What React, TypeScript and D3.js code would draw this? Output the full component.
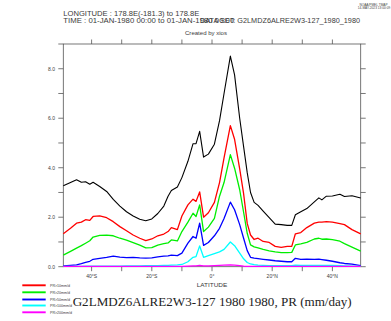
import React from "react";
import * as d3 from "d3";

const LATS = [-49.4, -47, -45, -43.4, -42, -40.6, -39.5, -37.3, -35, -32.8, -30.6, -28.4, -26.2, -24, -22, -20, -18, -16, -14.6, -13.5, -11.5, -10, -8, -6.3, -5.3, -4.1, -2.8, -1.2, 0.8, 2.5, 4, 6.1, 7.5, 9.2, 10.5, 11.7, 12.8, 14, 15.3, 17, 19, 21, 23, 25, 26.5, 27.7, 29.5, 31.5, 34, 35.5, 36.5, 38, 40, 42.5, 44, 46.5, 49.4];

const PR_TOTAL = [3.27, 3.40, 3.51, 3.41, 3.43, 3.33, 3.41, 3.24, 3.04, 2.72, 2.45, 2.22, 2.05, 1.92, 1.86, 1.93, 2.15, 2.45, 2.85, 3.08, 3.22, 3.6, 4.26, 4.97, 4.97, 5.47, 4.43, 4.55, 4.95, 5.9, 7.0, 8.51, 7.75, 6.0, 4.85, 3.8, 3.0, 2.6, 2.48, 2.25, 1.98, 1.72, 1.70, 1.67, 1.67, 2.10, 2.22, 2.35, 2.62, 2.78, 2.70, 2.85, 2.86, 2.93, 2.84, 2.87, 2.78];
const PR_10 = [1.33, 1.55, 1.76, 1.80, 1.90, 1.87, 2.03, 2.05, 1.98, 1.82, 1.62, 1.45, 1.28, 1.15, 1.05, 1.12, 1.25, 1.32, 1.42, 1.58, 1.50, 2.05, 2.5, 2.73, 2.64, 3.02, 2.0, 2.18, 2.6, 3.4, 4.4, 5.7, 5.15, 3.95, 2.95, 1.75, 1.28, 1.1, 1.15, 1.02, 0.98, 0.82, 0.78, 0.82, 0.82, 1.33, 1.38, 1.58, 1.76, 1.80, 1.80, 1.82, 1.80, 1.74, 1.70, 1.50, 1.33];
const PR_20 = [0.47, 0.62, 0.75, 0.85, 0.95, 1.05, 1.20, 1.27, 1.28, 1.25, 1.15, 1.07, 0.97, 0.87, 0.76, 0.77, 0.87, 0.93, 0.96, 1.08, 1.04, 1.42, 1.80, 2.16, 2.03, 2.5, 1.42, 1.60, 1.95, 2.85, 3.4, 4.53, 3.98, 3.11, 2.2, 1.35, 0.88, 0.80, 0.76, 0.70, 0.64, 0.60, 0.57, 0.57, 0.58, 0.88, 0.92, 0.98, 1.12, 1.15, 1.11, 1.12, 1.09, 1.03, 0.93, 0.79, 0.63];
const PR_50 = [0.03, 0.05, 0.07, 0.12, 0.17, 0.22, 0.30, 0.34, 0.38, 0.43, 0.39, 0.37, 0.38, 0.36, 0.35, 0.36, 0.40, 0.43, 0.44, 0.47, 0.45, 0.55, 0.95, 1.22, 1.15, 1.76, 0.86, 0.98, 1.25, 1.55, 1.95, 2.61, 2.3, 1.7, 1.15, 0.65, 0.38, 0.35, 0.33, 0.30, 0.27, 0.24, 0.22, 0.20, 0.20, 0.34, 0.30, 0.31, 0.30, 0.31, 0.29, 0.26, 0.22, 0.16, 0.13, 0.10, 0.04];
const PR_100 = [0.01, 0.01, 0.01, 0.01, 0.02, 0.02, 0.02, 0.02, 0.02, 0.02, 0.02, 0.03, 0.03, 0.03, 0.04, 0.04, 0.04, 0.05, 0.05, 0.06, 0.07, 0.09, 0.2, 0.38, 0.41, 0.84, 0.38, 0.45, 0.53, 0.6, 0.7, 1.0, 0.85, 0.55, 0.32, 0.17, 0.11, 0.08, 0.06, 0.05, 0.04, 0.04, 0.04, 0.04, 0.04, 0.06, 0.05, 0.05, 0.05, 0.05, 0.05, 0.05, 0.05, 0.04, 0.03, 0.02, 0.01];
const PR_200 = [0.01, 0.01, 0.01, 0.01, 0.01, 0.01, 0.01, 0.01, 0.01, 0.01, 0.01, 0.01, 0.01, 0.01, 0.01, 0.01, 0.01, 0.01, 0.01, 0.01, 0.01, 0.01, 0.02, 0.03, 0.03, 0.05, 0.03, 0.03, 0.04, 0.05, 0.06, 0.07, 0.06, 0.04, 0.02, 0.01, 0.01, 0.01, 0.01, 0.01, 0.01, 0.01, 0.01, 0.01, 0.01, 0.01, 0.01, 0.01, 0.01, 0.01, 0.01, 0.01, 0.01, 0.01, 0.01, 0.01, 0.01];

const SERIES_NAMES = ["PR", "PR>10mm/d", "PR>20mm/d", "PR>50mm/d", "PR>100mm/d", "PR>200mm/d"];
const SERIES_VALUES = [PR_TOTAL, PR_10, PR_20, PR_50, PR_100, PR_200];
const SERIES_COLORS = ["#000000", "#ff0000", "#00ee00", "#0000ff", "#00ffff", "#ff00ff"];

const X_TICKS = [-40, -30, -20, -10, 0, 10, 20, 30, 40];
const X_LABELS: [number, string][] = [[-40, "40°S"], [-20, "20°S"], [0, "0°"], [20, "20°N"], [40, "40°N"]];
const Y_TICKS = [0, 1, 2, 3, 4, 5, 6, 7, 8, 9];
const Y_LABELS = [0, 2, 4, 6, 8];

const HEADER_LON = "LONGITUDE : 178.8E(-181.3) to 178.8E";
const HEADER_TIME = "TIME : 01-JAN-1980 00:00 to 01-JAN-1980 00:00";
const HEADER_DSET = "DATA SET: G2LMDZ6ALRE2W3-127_1980_1980";
const HEADER_CREATED = "Created by xios";
const TITLE = "G2LMDZ6ALRE2W3-127 1980 1980, PR (mm/day)";

export default function App() {
  const W = 391, H = 321;
  const L = 63.3, R = 360.7, T = 44, B = 266.7;
  const x = d3.scaleLinear().domain([-49.4, 49.4]).range([L, R]);
  const y = d3.scaleLinear().domain([0, 9]).range([B, T]);
  const line = d3.line<number>().x((_, i) => x(LATS[i])).y((v) => y(v));
  const axisColor = "#555555";
  const textColor = "#3a3a3a";
  const sans = "'Liberation Sans', Arial, sans-serif";

  return (
    <svg width={W} height={H} style={{ position: "fixed", left: 0, top: 0, background: "#fff" }} fontFamily={sans}>
      <rect x={0} y={0} width={W} height={H} fill="#fff" />
      {/* header */}
      <text x={373.5} y={5.5} fontSize={3.2} textAnchor="middle" fill="#444">NOAA/PMEL TMAP</text>
      <text x={374} y={8.8} fontSize={3.2} textAnchor="middle" fill="#444">14-MAY-2023 13:00:09</text>
      <text x={63.3} y={16} fontSize={6.4} textLength={136} lengthAdjust="spacingAndGlyphs" fill={textColor}>{HEADER_LON}</text>
      <text x={63.3} y={22.6} fontSize={6.4} textLength={171} lengthAdjust="spacingAndGlyphs" fill={textColor}>{HEADER_TIME}</text>
      <text x={200} y={22.6} fontSize={6.4} textLength={160} lengthAdjust="spacingAndGlyphs" fill={textColor}>{HEADER_DSET}</text>
      <text x={206} y={34.5} fontSize={6.2} textLength={42} lengthAdjust="spacingAndGlyphs" textAnchor="middle" fill={textColor}>{HEADER_CREATED}</text>

      {/* frame */}
      <rect x={L} y={T} width={R - L} height={B - T} fill="none" stroke={axisColor} strokeWidth={0.8} />
      {X_TICKS.map((t) => (
        <g key={"xt" + t}>
          <line x1={x(t)} x2={x(t)} y1={T} y2={T - 4.5} stroke={axisColor} strokeWidth={0.8} />
          <line x1={x(t)} x2={x(t)} y1={B} y2={B + 4.5} stroke={axisColor} strokeWidth={0.8} />
        </g>
      ))}
      {Y_TICKS.map((t) => (
        <g key={"yt" + t}>
          <line x1={L} x2={L - 5} y1={y(t)} y2={y(t)} stroke={axisColor} strokeWidth={0.8} />
          <line x1={R} x2={R + 5} y1={y(t)} y2={y(t)} stroke={axisColor} strokeWidth={0.8} />
        </g>
      ))}
      {Y_LABELS.map((t) => (
        <text key={"yl" + t} x={55} y={y(t) + 1.8} fontSize={5} textAnchor="end" fill={textColor}>{t.toFixed(1)}</text>
      ))}
      {X_LABELS.map(([t, s]) => (
        <text key={"xl" + t} x={x(t)} y={278.3} fontSize={5} textAnchor="middle" fill={textColor}>{s}</text>
      ))}
      <text x={212} y={287.3} fontSize={5.6} textLength={30.6} lengthAdjust="spacingAndGlyphs" textAnchor="middle" fill={textColor}>LATITUDE</text>

      {/* data lines */}
      {SERIES_VALUES.map((vals, i) => (
        <path key={SERIES_NAMES[i]} d={line(vals) || ""} fill="none" stroke={SERIES_COLORS[i]} strokeWidth={i === 0 ? 1.1 : 1.3} strokeLinejoin="round" />
      ))}

      {/* legend */}
      {SERIES_NAMES.slice(1).map((name, i) => {
        const ly = [285.3, 292.3, 299.5, 305.5, 312.3][i];
        return (
          <g key={"lg" + name}>
            <line x1={22.3} x2={45.7} y1={ly} y2={ly} stroke={SERIES_COLORS[i + 1]} strokeWidth={1.9} />
            <text x={50} y={ly + 1.3} fontSize={3.6} fill={textColor}>{name}</text>
          </g>
        );
      })}
      <text x={72.7} y={306} fontSize={11.5} textLength={279} lengthAdjust="spacingAndGlyphs" fontFamily="'Liberation Serif', 'DejaVu Serif', serif" fill="#222">{TITLE}</text>
    </svg>
  );
}
